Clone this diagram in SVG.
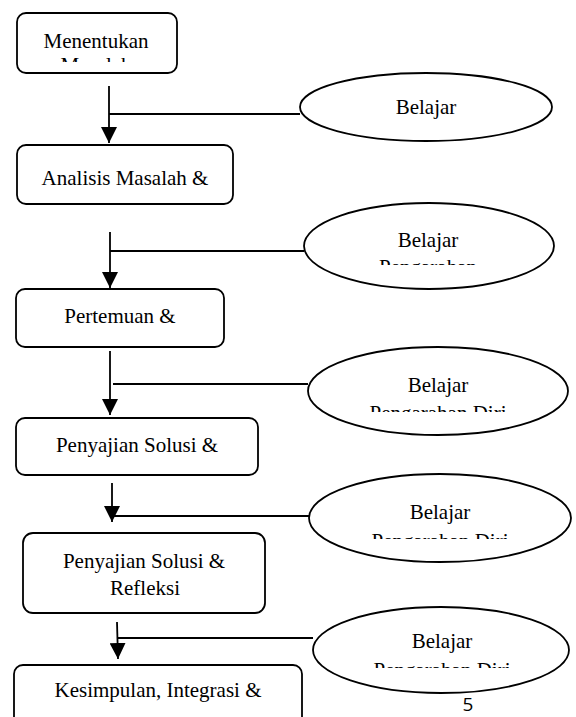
<svg xmlns="http://www.w3.org/2000/svg" width="576" height="717" viewBox="0 0 576 717">
<style>
.box{fill:#fff;stroke:#000;stroke-width:1.8}
.ell{fill:#fff;stroke:#000;stroke-width:1.8}
.t{font-family:"Liberation Serif","Times New Roman",serif;font-size:21px;fill:#000;text-anchor:middle}
.ln{stroke:#000;stroke-width:1.8;fill:none}
.pg{font-family:"Open Sans","Liberation Sans",sans-serif;font-size:19px;fill:#000;text-anchor:middle}
</style>
<defs>
<marker id="ah" viewBox="0 0 16 16" refX="16" refY="8" markerWidth="16" markerHeight="16" markerUnits="userSpaceOnUse" orient="auto">
<path d="M0,0 L16,8 L0,16 z" fill="#000"/>
</marker>
<clipPath id="c1"><rect x="0" y="0" width="576" height="62"/></clipPath>
<clipPath id="c2"><rect x="0" y="0" width="576" height="265"/></clipPath>
<clipPath id="c3"><rect x="0" y="0" width="576" height="412"/></clipPath>
<clipPath id="c4"><rect x="0" y="0" width="576" height="539"/></clipPath>
<clipPath id="c5"><rect x="0" y="0" width="576" height="668"/></clipPath>
</defs>
<rect width="576" height="717" fill="#fff"/>

<g id="connectors">
<line class="ln" x1="109" y1="86" x2="109" y2="143" marker-end="url(#ah)"/>
<line class="ln" x1="109" y1="114" x2="300" y2="114"/>
<line class="ln" x1="110" y1="232" x2="110" y2="288" marker-end="url(#ah)"/>
<line class="ln" x1="110" y1="251" x2="304" y2="251"/>
<line class="ln" x1="110" y1="351" x2="110" y2="415" marker-end="url(#ah)"/>
<line class="ln" x1="113" y1="384" x2="308" y2="384"/>
<line class="ln" x1="112" y1="483" x2="112" y2="522" marker-end="url(#ah)"/>
<line class="ln" x1="112" y1="516" x2="309" y2="516"/>
<line class="ln" x1="117" y1="622" x2="118" y2="659" marker-end="url(#ah)"/>
<line class="ln" x1="118" y1="638" x2="313" y2="638"/>
</g>

<g id="n1">
<rect class="box" x="17" y="13" width="160" height="60" rx="9"/>
<text class="t" x="96" y="48">Menentukan</text>
<text class="t" x="96" y="72" clip-path="url(#c1)">Masalah</text>
</g>
<g id="n2">
<rect class="box" x="17" y="145" width="216" height="59" rx="9"/>
<text class="t" x="125" y="185">Analisis Masalah &amp;</text>
</g>
<g id="n3">
<rect class="box" x="16" y="289" width="208" height="58" rx="9"/>
<text class="t" x="120" y="323">Pertemuan &amp;</text>
</g>
<g id="n4">
<rect class="box" x="16" y="418" width="242" height="57" rx="9"/>
<text class="t" x="137" y="452">Penyajian Solusi &amp;</text>
</g>
<g id="n5">
<rect class="box" x="23" y="533" width="242" height="80" rx="10"/>
<text class="t" x="144" y="568">Penyajian Solusi &amp;</text>
<text class="t" x="145" y="595">Refleksi</text>
</g>
<g id="n6">
<rect class="box" x="14" y="665" width="288" height="70" rx="9"/>
<text class="t" x="158" y="697">Kesimpulan, Integrasi &amp;</text>
</g>

<g id="e1">
<ellipse class="ell" cx="426" cy="107" rx="126" ry="34"/>
<text class="t" x="426" y="114">Belajar</text>
</g>
<g id="e2">
<ellipse class="ell" cx="429" cy="246" rx="125" ry="43"/>
<text class="t" x="428" y="247">Belajar</text>
<text class="t" x="428" y="274" clip-path="url(#c2)">Pengarahan</text>
</g>
<g id="e3">
<ellipse class="ell" cx="438" cy="391" rx="130" ry="44"/>
<text class="t" x="438" y="392">Belajar</text>
<text class="t" x="438" y="420" clip-path="url(#c3)">Pengarahan Diri</text>
</g>
<g id="e4">
<ellipse class="ell" cx="440" cy="518" rx="131" ry="44"/>
<text class="t" x="440" y="519">Belajar</text>
<text class="t" x="440" y="548" clip-path="url(#c4)">Pengarahan Diri</text>
</g>
<g id="e5">
<ellipse class="ell" cx="441" cy="650" rx="128" ry="43"/>
<text class="t" x="442" y="648">Belajar</text>
<text class="t" x="442" y="677" clip-path="url(#c5)">Pengarahan Diri</text>
</g>

<text class="pg" x="468" y="711">5</text>
</svg>
